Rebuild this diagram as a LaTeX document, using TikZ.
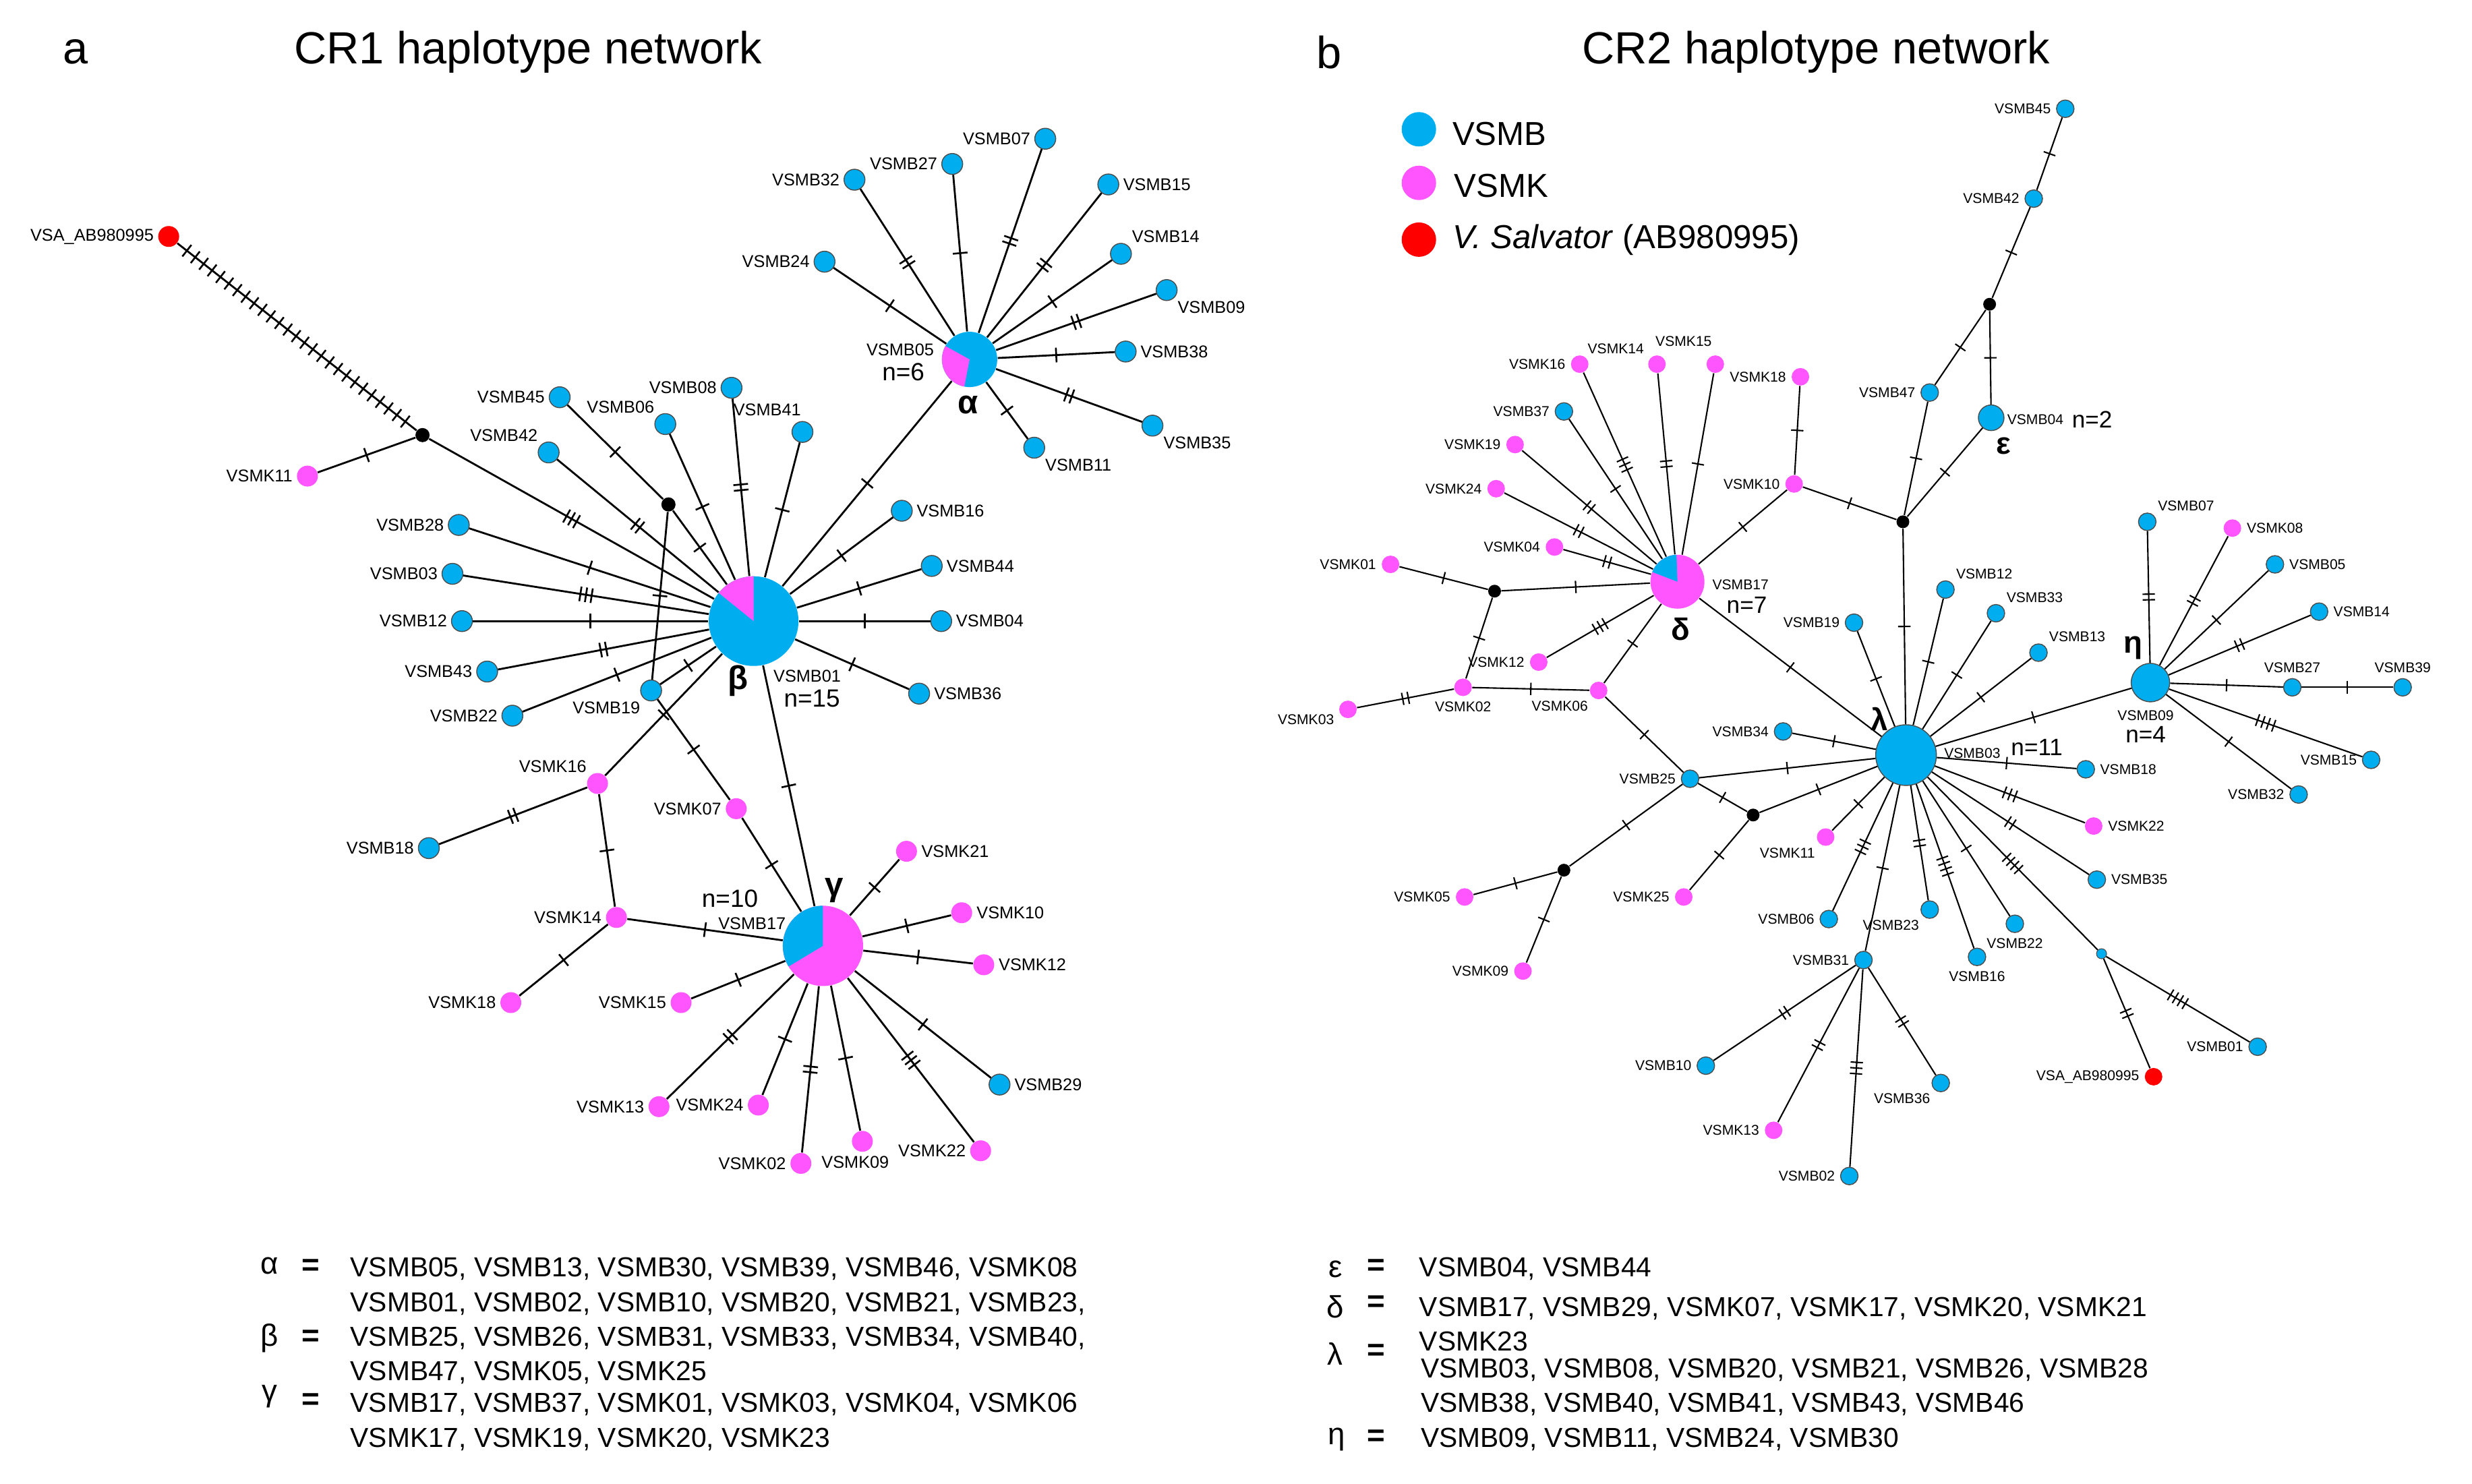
\documentclass[tikz,border=0pt]{standalone}
\usepackage{fontspec}
\setmainfont{Liberation Sans}
\usetikzlibrary{decorations.markings}
\definecolor{vblue}{RGB}{0,174,239}
\definecolor{vpink}{RGB}{255,85,255}
\definecolor{vred}{RGB}{255,0,0}
\begin{document}
\begin{tikzpicture}[x=0.02338cm, y=-0.02338cm,
  hb/.style={circle, fill=vblue, draw=black!70, line width=0.4pt, inner sep=0pt, minimum size=0.31cm},
  hk/.style={circle, fill=vpink, inner sep=0pt, minimum size=0.31cm},
  hs/.style={circle, fill=vred, inner sep=0pt, minimum size=0.31cm},
  mv/.style={circle, fill=black, inner sep=0pt, minimum size=0.21cm},
  sm/.style={minimum size=0.26cm},
  lab/.style={font=\fontsize{7.2}{8}\selectfont, inner sep=0.5pt},
  label distance=1pt,
  ll/.style={label={[lab]left:#1}},
  lr/.style={label={[lab]right:#1}},
  la/.style={label={[lab]above:#1}},
  lw/.style={label={[lab]below:#1}},
  lal/.style={label={[lab]above left:#1}},
  lar/.style={label={[lab]above right:#1}},
  lbl/.style={label={[lab]below left:#1}},
  lbr/.style={label={[lab]below right:#1}},
  ttl/.style={font=\fontsize{19}{22}\selectfont},
  gk/.style={font=\fontsize{14}{16}\selectfont\bfseries, inner sep=0pt},
  nn/.style={font=\fontsize{10.5}{12}\selectfont, inner sep=0pt},
  tkh/.store in=\tkh, tkh=3.1pt,
  tkw/.store in=\tkw, tkw=0.75pt,
  lnk/.style={line width=0.8pt},
  mut/.style={lnk, postaction={decorate, decoration={markings,
      mark=at position 0.5 with {\foreach \k in {1,...,#1}
        {\draw[line width=\tkw] ({(\k-(#1+1)/2)*2.4pt},-\tkh) -- ++(0,2*\tkh);}}}}},
  mut/.default=1,
  mutlong/.style={lnk, postaction={decorate, decoration={markings,
      mark=between positions 0.04 and 0.97 step 4.5pt with
        {\draw[line width=\tkw] (0,-\tkh) -- ++(0,2*\tkh);}}}},
  lst/.style={font=\fontsize{11.6}{14.6}\selectfont, inner sep=0pt, anchor=west, align=left},
  gl/.style={font=\fontsize{13}{15}\selectfont, inner sep=0pt},
  eqs/.style={font=\fontsize{13}{15}\selectfont\bfseries, inner sep=0pt},
]
\useasboundingbox (0,0) rectangle (1568,941);

% CR1 haplotype network
\node[ttl] (pa) at (48,33){a};
\node[ttl] (ta) at (335,33){CR1 haplotype network};

\node[circle, fill=vblue, inner sep=0pt, minimum size=1.33cm] (beta) at (478,394){};
\fill[vpink] (beta.center) -- ++(90:0.665cm) arc[start angle=90, end angle=141, radius=0.665cm] -- cycle;
\node[circle, fill=vblue, inner sep=0pt, minimum size=0.82cm] (alpha) at (615,228){};
\fill[vpink] (alpha.center) -- ++(151:0.41cm) arc[start angle=151, end angle=259, radius=0.41cm] -- cycle;
\node[circle, fill=vpink, inner sep=0pt, minimum size=1.19cm] (gamma) at (522,600){};
\fill[vblue] (gamma.center) -- ++(90:0.595cm) arc[start angle=90, end angle=211, radius=0.595cm] -- cycle;

\node[gk] (alphal) at (614,257){α};
\node[lab] (alphab) at (571,222){VSMB05};
\node[nn] (alphan) at (573,236){n=6};
\node[gk] (betal) at (468,432){β};
\node[lab] (betab) at (512,429){VSMB01};
\node[nn] (betan) at (515,443){n=15};
\node[gk] (gammal) at (529,565){γ};
\node[lab] (gammab) at (477,586){VSMB17};
\node[nn] (gamman) at (463,570){n=10};

\node[hs, ll=VSA\_AB980995] (sa1) at (107,150){};
\node[mv] (m1) at (268,276){};
\node[mv] (m2) at (424,320){};
\node[hk, ll=VSMK11] (k11a) at (195,302){};
\node[hb, ll=VSMB45] (b45a) at (355,252){};
\node[hb, lal=VSMB06] (b06a) at (422,269){};
\node[hb, lal=VSMB42] (b42a) at (348,287){};
\node[hb, ll=VSMB08] (b08a) at (464,246){};
\node[hb, label={[lab, xshift=4pt, yshift=2pt]above left:VSMB41}] (b41a) at (509,274){};
\node[hb, ll=VSMB32] (b32a) at (542,114){};
\node[hb, ll=VSMB27] (b27a) at (604,104){};
\node[hb, ll=VSMB07] (b07a) at (663,88){};
\node[hb, lr=VSMB15] (b15a) at (703,117){};
\node[hb, lar=VSMB14] (b14a) at (711,161){};
\node[hb, lbr=VSMB09] (b09a) at (740,184){};
\node[hb, lr=VSMB38] (b38a) at (714,223){};
\node[hb, lbr=VSMB35] (b35a) at (731,270){};
\node[hb, lbr=VSMB11] (b11a) at (656,284){};
\node[hb, ll=VSMB24] (b24a) at (523,166){};
\node[hb, lr=VSMB16] (b16a) at (572,324){};
\node[hb, lr=VSMB44] (b44a) at (591,359){};
\node[hb, lr=VSMB04] (b04a) at (597,394){};
\node[hb, lr=VSMB36] (b36a) at (583,440){};
\node[hb, ll=VSMB28] (b28a) at (291,333){};
\node[hb, ll=VSMB03] (b03a) at (287,364){};
\node[hb, ll=VSMB12] (b12a) at (293,394){};
\node[hb, ll=VSMB43] (b43a) at (309,426){};
\node[hb, ll=VSMB22] (b22a) at (325,454){};
\node[hb, lbl=VSMB19] (b19a) at (413,438){};
\node[hk, lal=VSMK16] (k16a) at (379,497){};
\node[hk, ll=VSMK07] (k07a) at (467,513){};
\node[hb, ll=VSMB18] (b18a) at (272,538){};
\node[hk, ll=VSMK14] (k14a) at (391,582){};
\node[hk, ll=VSMK18] (k18a) at (324,636){};
\node[hk, ll=VSMK15] (k15a) at (432,636){};
\node[hk, lr=VSMK21] (k21a) at (575,540){};
\node[hk, lr=VSMK10] (k10a) at (610,579){};
\node[hk, lr=VSMK12] (k12a) at (624,612){};
\node[hb, lr=VSMB29] (b29a) at (634,688){};
\node[hk, ll=VSMK22] (k22a) at (622,730){};
\node[hk, label={[lab, xshift=-3pt]below:VSMK09}] (k09a) at (547,724){};
\node[hk, ll=VSMK02] (k02a) at (508,738){};
\node[hk, ll=VSMK24] (k24a) at (481,701){};
\node[hk, ll=VSMK13] (k13a) at (418,702){};

\draw[mutlong] (sa1) -- (m1);
\draw[mut] (k11a) -- (m1);
\draw[mut=3] (m1) -- (beta);
\draw[mut] (b45a) -- (m2);
\draw[mut] (m2) -- (beta);
\draw[mut] (m2) -- (b19a);
\draw[mut] (b06a) -- (beta);
\draw[mut=2] (b42a) -- (beta);
\draw[mut=2] (b08a) -- (beta);
\draw[mut] (b41a) -- (beta);
\draw[mut] (alpha) -- (beta);
\draw[mut] (b16a) -- (beta);
\draw[mut] (b44a) -- (beta);
\draw[mut] (b04a) -- (beta);
\draw[mut] (b36a) -- (beta);
\draw[mut] (b28a) -- (beta);
\draw[mut=3] (b03a) -- (beta);
\draw[mut] (b12a) -- (beta);
\draw[mut=2] (b43a) -- (beta);
\draw[mut] (b22a) -- (beta);
\draw[mut] (b19a) -- (beta);
\draw[mut] (k16a) -- (beta);
\draw[mut] (beta) -- (gamma);
\draw[mut] (b24a) -- (alpha);
\draw[mut=2] (b32a) -- (alpha);
\draw[mut] (b27a) -- (alpha);
\draw[mut=2] (b07a) -- (alpha);
\draw[mut=2] (b15a) -- (alpha);
\draw[mut] (b14a) -- (alpha);
\draw[mut=2] (b09a) -- (alpha);
\draw[mut] (b38a) -- (alpha);
\draw[mut=2] (b35a) -- (alpha);
\draw[mut] (b11a) -- (alpha);
\draw[mut] (b19a) -- (k07a);
\draw[mut] (k07a) -- (gamma);
\draw[mut=2] (b18a) -- (k16a);
\draw[mut] (k16a) -- (k14a);
\draw[mut] (k14a) -- (gamma);
\draw[mut] (k14a) -- (k18a);
\draw[mut] (k15a) -- (gamma);
\draw[mut] (k21a) -- (gamma);
\draw[mut] (k10a) -- (gamma);
\draw[mut] (k12a) -- (gamma);
\draw[mut] (b29a) -- (gamma);
\draw[mut=3] (k22a) -- (gamma);
\draw[mut] (k09a) -- (gamma);
\draw[mut=2] (k02a) -- (gamma);
\draw[mut] (k24a) -- (gamma);
\draw[mut=2] (k13a) -- (gamma);

% CR2 haplotype network
\node[ttl] (pb) at (843,33){b};
\node[ttl] (tb) at (1152,33){CR2 haplotype network};

\node[circle, fill=vblue, inner sep=0pt, minimum size=0.51cm] (lgb) at (900,82){};
\node[font=\fontsize{14}{16}\selectfont, anchor=west, inner sep=0pt] (lgbt) at (921,85){VSMB};
\node[circle, fill=vpink, inner sep=0pt, minimum size=0.51cm] (lgk) at (900,116){};
\node[font=\fontsize{14}{16}\selectfont, anchor=west, inner sep=0pt] (lgkt) at (922,118){VSMK};
\node[circle, fill=vred, inner sep=0pt, minimum size=0.51cm] (lgs) at (900,152){};
\node[font=\fontsize{14}{16}\selectfont, anchor=west, inner sep=0pt] (lgst) at (921,152){\textit{V. Salvator} (AB980995)};

\begin{scope}[lab/.style={font=\fontsize{6}{7}\selectfont, inner sep=0.5pt},
  lnk/.style={line width=0.6pt}, tkh=2.6pt, tkw=0.6pt, label distance=1.5pt,
  hb/.append style={sm}, hk/.append style={sm}, hs/.append style={sm},
  mv/.append style={minimum size=0.19cm},
  gk/.style={font=\fontsize{13}{15}\selectfont\bfseries, inner sep=0pt},
  nn/.style={font=\fontsize{10}{12}\selectfont, inner sep=0pt}]

\node[circle, fill=vblue, draw=black!70, line width=0.4pt, inner sep=0pt, minimum size=0.9cm] (lambda) at (1209,479){};
\node[circle, fill=vblue, draw=black!70, line width=0.4pt, inner sep=0pt, minimum size=0.57cm] (eta) at (1364,433){};
\node[circle, fill=vblue, draw=black!70, line width=0.4pt, inner sep=0pt, minimum size=0.38cm] (eps) at (1263,265){};
\node[circle, fill=vpink, inner sep=0pt, minimum size=0.8cm] (delta) at (1064,369){};
\fill[vblue] (delta.center) -- ++(92:0.4cm) arc[start angle=92, end angle=159, radius=0.4cm] -- cycle;

\node[gk] (lambdal) at (1192,456){λ};
\node[lab] (lambdab) at (1251,478){VSMB03};
\node[nn] (lambdan) at (1292,474){n=11};
\node[gk] (etal) at (1353,411){η};
\node[lab] (etab) at (1361,454){VSMB09};
\node[nn] (etan) at (1361,466){n=4};
\node[gk] (epsl) at (1271,283){ε};
\node[lab] (epsb) at (1291,266){VSMB04};
\node[nn] (epsn) at (1327,266){n=2};
\node[gk] (deltal) at (1066,399){δ};
\node[lab] (deltab) at (1104,371){VSMB17};
\node[nn] (deltan) at (1108,384){n=7};

\node[hb, ll=VSMB45] (b45b) at (1310,69){};
\node[hb, ll=VSMB42] (b42b) at (1290,126){};
\node[mv] (e1) at (1262,193){};
\node[hb, ll=VSMB47] (b47b) at (1224,249){};
\node[mv] (e2) at (1207,331){};
\node[hk, ll=VSMK10] (k10b) at (1138,307){};
\node[hk, ll=VSMK18] (k18b) at (1142,239){};
\node[hk, ll=VSMK16] (k16b) at (1002,231){};
\node[hk, label={[lab, xshift=-1pt]above left:VSMK14}] (k14b) at (1051,231){};
\node[hk, label={[lab, xshift=3pt, yshift=3pt]above left:VSMK15}] (k15b) at (1088,231){};
\node[hb, ll=VSMB37] (b37b) at (992,261){};
\node[hk, ll=VSMK19] (k19b) at (961,282){};
\node[hk, ll=VSMK24] (k24b) at (949,310){};
\node[hk, ll=VSMK04] (k04b) at (986,347){};
\node[mv] (d1) at (948,375){};
\node[hk, ll=VSMK01] (k01b) at (882,358){};
\node[hk, ll=VSMK12] (k12b) at (976,420){};
\node[hk, lw=VSMK02] (k02b) at (928,436){};
\node[hk, label={[lab]195:VSMK03}] (k03b) at (855,450){};
\node[hk, lbl=VSMK06] (k06b) at (1014,438){};
\node[hb, ll=VSMB25] (b25b) at (1072,494){};
\node[mv] (l1) at (1112,517){};
\node[hk, ll=VSMK25] (k25b) at (1068,569){};
\node[mv] (l2) at (992,552){};
\node[hk, ll=VSMK05] (k05b) at (929,569){};
\node[hk, ll=VSMK09] (k09b) at (966,616){};
\node[hb, ll=VSMB19] (b19b) at (1176,395){};
\node[hb, lar=VSMB12] (b12b) at (1234,374){};
\node[hb, lar=VSMB33] (b33b) at (1266,389){};
\node[hb, lar=VSMB13] (b13b) at (1293,414){};
\node[hb, ll=VSMB34] (b34b) at (1131,464){};
\node[hk, lbl=VSMK11] (k11b) at (1158,531){};
\node[hb, ll=VSMB06] (b06b) at (1160,583){};
\node[hb, ll=VSMB31] (b31b) at (1182,609){};
\node[hb, lbl=VSMB23] (b23b) at (1224,577){};
\node[hb, lw=VSMB16] (b16b) at (1254,607){};
\node[hb, lw=VSMB22] (b22b) at (1278,586){};
\node[hb, lr=VSMB35] (b35b) at (1330,558){};
\node[hk, lr=VSMK22] (k22b) at (1328,524){};
\node[hb, lr=VSMB18] (b18b) at (1323,488){};
\node[hb, ll=VSMB10] (b10b) at (1082,676){};
\node[hk, ll=VSMK13] (k13b) at (1125,717){};
\node[hb, ll=VSMB02] (b02b) at (1173,746){};
\node[hb, lbl=VSMB36] (b36b) at (1231,687){};
\node[hb, minimum size=0.15cm, line width=0.3pt] (s1) at (1333,605){};
\node[hs, ll=VSA\_AB980995] (sa2) at (1366,683){};
\node[hb, ll=VSMB01] (b01b) at (1432,664){};
\node[hb, lar=VSMB07] (b07b) at (1362,331){};
\node[hk, lr=VSMK08] (k08b) at (1416,335){};
\node[hb, lr=VSMB05] (b05b) at (1443,358){};
\node[hb, lr=VSMB14] (b14b) at (1471,388){};
\node[hb, la=VSMB27] (b27b) at (1454,436){};
\node[hb, la=VSMB39] (b39b) at (1524,436){};
\node[hb, ll=VSMB15] (b15b) at (1504,482){};
\node[hb, ll=VSMB32] (b32b) at (1458,504){};

\draw[mut] (b45b) -- (b42b);
\draw[mut] (b42b) -- (e1);
\draw[mut] (e1) -- (b47b);
\draw[mut] (e1) -- (eps);
\draw[mut] (b47b) -- (e2);
\draw[mut] (eps) -- (e2);
\draw[mut] (e2) -- (k10b);
\draw[mut] (e2) -- (lambda);
\draw[mut] (k18b) -- (k10b);
\draw[mut] (k10b) -- (delta);
\draw[mut=3] (k16b) -- (delta);
\draw[mut=2] (k14b) -- (delta);
\draw[mut] (k15b) -- (delta);
\draw[mut] (b37b) -- (delta);
\draw[mut=2] (k19b) -- (delta);
\draw[mut=2] (k24b) -- (delta);
\draw[mut=2] (k04b) -- (delta);
\draw[mut] (d1) -- (delta);
\draw[mut] (k01b) -- (d1);
\draw[mut] (d1) -- (k02b);
\draw[mut=3] (k12b) -- (delta);
\draw[mut=2] (k03b) -- (k02b);
\draw[mut] (k02b) -- (k06b);
\draw[mut] (k06b) -- (delta);
\draw[mut] (delta) -- (lambda);
\draw[mut] (k06b) -- (b25b);
\draw[mut] (b25b) -- (lambda);
\draw[mut] (b25b) -- (l1);
\draw[mut] (l1) -- (lambda);
\draw[mut] (l1) -- (k25b);
\draw[mut] (b25b) -- (l2);
\draw[mut] (l2) -- (k05b);
\draw[mut] (l2) -- (k09b);
\draw[mut] (b19b) -- (lambda);
\draw[mut] (b12b) -- (lambda);
\draw[mut] (b33b) -- (lambda);
\draw[mut] (b13b) -- (lambda);
\draw[mut] (b34b) -- (lambda);
\draw[mut] (lambda) -- (eta);
\draw[mut] (lambda) -- (b18b);
\draw[mut=3] (lambda) -- (k22b);
\draw[mut=2] (lambda) -- (b35b);
\draw[mut=4] (lambda) -- (s1);
\draw[mut] (lambda) -- (b22b);
\draw[mut=4] (lambda) -- (b16b);
\draw[mut=2] (lambda) -- (b23b);
\draw[mut] (lambda) -- (b31b);
\draw[mut=3] (lambda) -- (b06b);
\draw[mut] (lambda) -- (k11b);
\draw[mut=2] (b31b) -- (b10b);
\draw[mut=2] (b31b) -- (k13b);
\draw[mut=3] (b31b) -- (b02b);
\draw[mut=2] (b31b) -- (b36b);
\draw[mut=2] (s1) -- (sa2);
\draw[mut=4] (s1) -- (b01b);
\draw[mut=2] (eta) -- (b07b);
\draw[mut=2] (eta) -- (k08b);
\draw[mut] (eta) -- (b05b);
\draw[mut=2] (eta) -- (b14b);
\draw[mut] (eta) -- (b27b);
\draw[mut] (b27b) -- (b39b);
\draw[mut=4] (eta) -- (b15b);
\draw[mut] (eta) -- (b32b);
\end{scope}

% haplotype groups
\node[gl] (ga) at (171,803){α};
\node[eqs] (gae) at (197,804){=};
\node[lst] (gat) at (222,805){VSMB05, VSMB13, VSMB30, VSMB39, VSMB46, VSMK08};
\node[gl] (gb) at (171,849){β};
\node[eqs] (gbe) at (197,849){=};
\node[lst] (gbt) at (222,849){VSMB01, VSMB02, VSMB10, VSMB20, VSMB21, VSMB23,\\VSMB25, VSMB26, VSMB31, VSMB33, VSMB34, VSMB40,\\VSMB47, VSMK05, VSMK25};
\node[gl] (gg) at (171,886){γ};
\node[eqs] (gge) at (197,889){=};
\node[lst] (ggt) at (222,902){VSMB17, VSMB37, VSMK01, VSMK03, VSMK04, VSMK06\\VSMK17, VSMK19, VSMK20, VSMK23};
\node[gl] (ge) at (847,805){ε};
\node[eqs] (gee) at (873,804){=};
\node[lst] (get) at (900,805){VSMB04, VSMB44};
\node[gl] (gd) at (847,829){δ};
\node[eqs] (gde) at (873,827){=};
\node[lst] (gdt) at (900,840){VSMB17, VSMB29, VSMK07, VSMK17, VSMK20, VSMK21\\VSMK23};
\node[gl] (gl) at (847,859){λ};
\node[eqs] (gle) at (873,858){=};
\node[lst] (glt) at (901,880){VSMB03, VSMB08, VSMB20, VSMB21, VSMB26, VSMB28\\VSMB38, VSMB40, VSMB41, VSMB43, VSMB46};
\node[gl] (gh) at (848,913){η};
\node[eqs] (ghe) at (873,912){=};
\node[lst] (ght) at (901,913){VSMB09, VSMB11, VSMB24, VSMB30};
\end{tikzpicture}
\end{document}
